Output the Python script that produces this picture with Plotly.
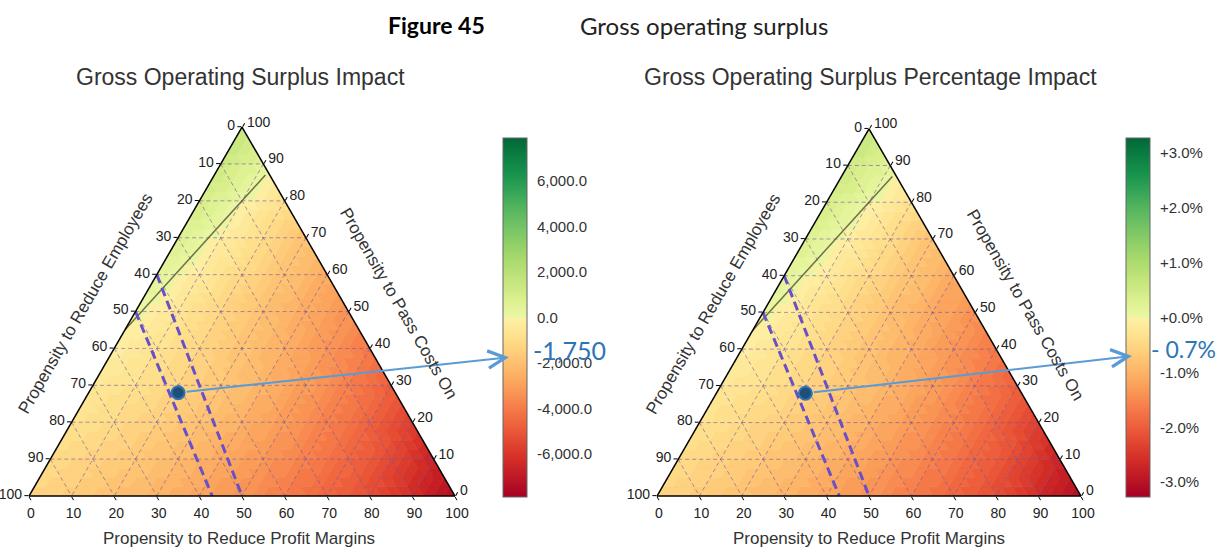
import math
import plotly.graph_objects as go
from plotly.colors import diverging, make_colorscale, sample_colorscale

W, H = 1216, 548

# ---------------- data ----------------
TICKS = [0, 10, 20, 30, 40, 50, 60, 70, 80, 90, 100]

# Lattice at 10 % steps. Row = share "Pass Costs On" (0, 10, ..., 100);
# inside a row: share "Reduce Profit Margins" 0, 10, ...; "Reduce Employees" is the rest.
GOS_IMPACT = [
    [-1300, -1610, -1970, -2380, -2850, -3380, -3960, -4600, -5300, -6300, -7400],
    [-1010, -1330, -1710, -2150, -2660, -3230, -3870, -4560, -5400, -6600],
    [-720, -1060, -1460, -1940, -2500, -3120, -3830, -4650, -5700],
    [-440, -790, -1230, -1760, -2370, -3080, -3870, -4800],
    [-150, -660, -1230, -1860, -2530, -3260, -4050],
    [140, -560, -1260, -1950, -2650, -3350],
    [430, -340, -1110, -1880, -2650],
    [720, -160, -1030, -1900],
    [1000, 100, -800],
    [1290, 400],
    [1580],
]
GOS_IMPACT_PCT = [
    [-0.54, -0.66, -0.81, -0.99, -1.18, -1.40, -1.64, -1.91, -2.19, -2.61, -3.06],
    [-0.42, -0.55, -0.71, -0.89, -1.10, -1.34, -1.60, -1.89, -2.24, -2.73],
    [-0.30, -0.44, -0.61, -0.80, -1.03, -1.29, -1.58, -1.92, -2.36],
    [-0.18, -0.33, -0.51, -0.73, -0.98, -1.27, -1.60, -1.99],
    [-0.06, -0.27, -0.51, -0.77, -1.05, -1.35, -1.68],
    [0.06, -0.23, -0.52, -0.81, -1.10, -1.39],
    [0.18, -0.14, -0.46, -0.78, -1.10],
    [0.30, -0.06, -0.43, -0.79],
    [0.42, 0.04, -0.33],
    [0.53, 0.17],
    [0.65],
]

GOS_CBAR_RANGE = [-7900, 7900]
PCT_CBAR_RANGE = [-3.27, 3.27]
GOS_CBAR_TICKS = [-6000, -4000, -2000, 0, 2000, 4000, 6000]
PCT_CBAR_TICKS = [-3, -2, -1, 0, 1, 2, 3]

# (pass costs on, reduce employees, reduce profit margins), in %
SELECTED_POINT = (28, 51, 21)
SELECTED_VALUES = [-1750, -0.7]
SELECTED_LABELS = ["-1,750", "- 0.7%"]

SCENARIO_LINES = [
    [(60, 40, 0), (0, 50, 50)],
    [(50, 50, 0), (0, 57, 43)],
]
ZERO_CONTOUR = [(45, 55, 0), (87, 1, 12)]

TITLES = ["Gross Operating Surplus Impact", "Gross Operating Surplus Percentage Impact"]
AXIS_TITLES = ["Propensity to Reduce Employees", "Propensity to Pass Costs On",
               "Propensity to Reduce Profit Margins"]

# ---------------- layout geometry ----------------
TERN = [dict(center=242, side=426), dict(center=869, side=424)]
BASE_Y = 496
CBAR_X = [503, 1126]
CBAR_TOP, CBAR_BOTTOM, CBAR_THICK = 138, 497, 24
LABEL_DX = [4, -1]
LABEL_SIZE = [25, 23]
FONT = "Liberation Sans, Arial, sans-serif"
SQ3 = math.sqrt(3)

_BASE = make_colorscale(diverging.RdYlGn)
COLORSCALE = []
for _i in range(11):
    _x = _i / 20
    COLORSCALE.append([min(_x, 0.4999), sample_colorscale(_BASE, [_x * 0.9])[0]])
for _i in range(11):
    _x = 0.5 + _i / 20
    COLORSCALE.append([_x, sample_colorscale(_BASE, [0.55 + (_x - 0.5) * 0.9])[0]])


def lattice_value(vals, u, v):
    i, j = int(math.floor(u)), int(math.floor(v))
    du, dv = u - i, v - j
    if du + dv <= 1:
        return (1 - du - dv) * vals[i][j] + du * vals[i + 1][j] + dv * vals[i][j + 1]
    return (du + dv - 1) * vals[i + 1][j + 1] + (1 - dv) * vals[i + 1][j] + (1 - du) * vals[i][j + 1]


def tern_px(i, a, b, c):
    g = TERN[i]
    S = g["side"]
    h = S * SQ3 / 2
    s = a + b + c
    x = g["center"] - S / 2 + S * (c / s + a / s / 2)
    y = BASE_Y - h * a / s
    return x, y


def cbar_py(v, vr):
    return CBAR_BOTTOM - (v - vr[0]) / (vr[1] - vr[0]) * (CBAR_BOTTOM - CBAR_TOP)


fig = go.Figure()
annotations = []
shapes = []

panels = [
    (GOS_IMPACT, GOS_CBAR_RANGE, GOS_CBAR_TICKS, [f"{t:,.1f}" for t in GOS_CBAR_TICKS]),
    (GOS_IMPACT_PCT, PCT_CBAR_RANGE, PCT_CBAR_TICKS, [f"{t:+.1f}%" for t in PCT_CBAR_TICKS]),
]

for idx, (vals, vr, cticks, ctext) in enumerate(panels):
    sub = "ternary" if idx == 0 else "ternary2"
    vmin, vmax = vr
    nb, N = 64, 40
    groups = {}
    for p in range(N):
        for q in range(N - p):
            tris = [((p, q), (p + 1, q), (p, q + 1))]
            if p + q <= N - 2:
                tris.append(((p + 1, q), (p, q + 1), (p + 1, q + 1)))
            for tri in tris:
                u = sum(t[0] for t in tri) / 3 * 10 / N
                v = sum(t[1] for t in tri) / 3 * 10 / N
                val = lattice_value(vals, u, v)
                k = int((val - vmin) / (vmax - vmin) * nb)
                k = max(0, min(nb - 1, k))
                groups.setdefault(k, []).append(tri)
    for k, tris in sorted(groups.items()):
        col = sample_colorscale(COLORSCALE, [(k + 0.5) / nb])[0]
        A, B, C = [], [], []
        for tri in tris:
            for (p, q) in list(tri) + [tri[0]]:
                A.append(p)
                C.append(q)
                B.append(N - p - q)
            A.append(None)
            B.append(None)
            C.append(None)
        fig.add_trace(go.Scatterternary(a=A, b=B, c=C, mode="lines", fill="toself",
                                        fillcolor=col, line=dict(color=col, width=0.8),
                                        hoverinfo="skip", showlegend=False, subplot=sub))

    # dashed grid
    A, B, C = [], [], []
    for t in TICKS[1:-1]:
        A += [t, t, None]; B += [100 - t, 0, None]; C += [0, 100 - t, None]
        A += [100 - t, 0, None]; B += [t, t, None]; C += [0, 100 - t, None]
        A += [100 - t, 0, None]; B += [0, 100 - t, None]; C += [t, t, None]
    fig.add_trace(go.Scatterternary(a=A, b=B, c=C, mode="lines",
                                    line=dict(color="rgba(115,85,165,0.6)", width=1, dash="4px,3px"),
                                    hoverinfo="skip", showlegend=False, subplot=sub))
    # zero contour
    fig.add_trace(go.Scatterternary(a=[p[0] for p in ZERO_CONTOUR], b=[p[1] for p in ZERO_CONTOUR],
                                    c=[p[2] for p in ZERO_CONTOUR], mode="lines",
                                    line=dict(color="rgba(95,85,55,0.85)", width=1.5),
                                    hoverinfo="skip", showlegend=False, subplot=sub))
    # scenario lines
    for ln in SCENARIO_LINES:
        fig.add_trace(go.Scatterternary(a=[p[0] for p in ln], b=[p[1] for p in ln], c=[p[2] for p in ln],
                                        mode="lines",
                                        line=dict(color="rgb(105,80,200)", width=3, dash="9px,5px"),
                                        hoverinfo="skip", showlegend=False, subplot=sub))
    # selected point
    fig.add_trace(go.Scatterternary(a=[SELECTED_POINT[0]], b=[SELECTED_POINT[1]], c=[SELECTED_POINT[2]],
                                    mode="markers",
                                    marker=dict(size=13, color="#1f4e79", line=dict(color="#2e75b6", width=2)),
                                    hoverinfo="skip", showlegend=False, subplot=sub))
    # colorbar carrier
    fig.add_trace(go.Scatterternary(
        a=[SELECTED_POINT[0]] * 2, b=[SELECTED_POINT[1]] * 2, c=[SELECTED_POINT[2]] * 2,
        mode="markers", hoverinfo="skip", showlegend=False, subplot=sub,
        marker=dict(size=1, opacity=0, color=[vmin, vmax], cmin=vmin, cmax=vmax, colorscale=COLORSCALE,
                    showscale=True,
                    colorbar=dict(x=CBAR_X[idx] / W, xanchor="left", xpad=0,
                                  y=1 - CBAR_BOTTOM / H, yanchor="bottom", ypad=0,
                                  lenmode="pixels", len=CBAR_BOTTOM - CBAR_TOP,
                                  thicknessmode="pixels", thickness=CBAR_THICK,
                                  outlinewidth=1, outlinecolor="#666",
                                  tickmode="array", tickvals=cticks, ticktext=ctext,
                                  ticks="outside", ticklen=7, tickcolor="rgba(0,0,0,0)",
                                  tickfont=dict(family=FONT, size=15, color="#333")))))
    # zero line in colorbar
    y0 = cbar_py(0, vr)
    shapes.append(dict(type="line", xref="paper", yref="paper",
                       x0=CBAR_X[idx] / W, x1=(CBAR_X[idx] + CBAR_THICK) / W,
                       y0=1 - y0 / H, y1=1 - y0 / H, line=dict(color="#4a4030", width=1.5)))
    # arrow from point to colorbar
    px, py = tern_px(idx, *SELECTED_POINT)
    tx, ty = CBAR_X[idx] + 6, cbar_py(SELECTED_VALUES[idx], vr)
    annotations.append(dict(x=tx / W, y=1 - ty / H, xref="paper", yref="paper",
                            ax=px - tx, ay=py - ty, axref="pixel", ayref="pixel",
                            text="", showarrow=True, arrowhead=5, arrowsize=1.7, arrowwidth=2,
                            arrowcolor="#5b9bd5", standoff=0, startstandoff=7))
    annotations.append(dict(x=(CBAR_X[idx] + CBAR_THICK + LABEL_DX[idx]) / W, y=1 - (ty - 7) / H,
                            xref="paper", yref="paper", xanchor="left", yanchor="middle",
                            text=SELECTED_LABELS[idx], showarrow=False,
                            font=dict(family="Lato, sans-serif", size=LABEL_SIZE[idx], color="#2e75b6")))
    # titles
    g = TERN[idx]
    annotations.append(dict(x=(g["center"] - 2 if idx == 0 else g["center"] + 1) / W, y=1 - 77 / H,
                            xref="paper", yref="paper",
                            text=TITLES[idx], showarrow=False, xanchor="center", yanchor="middle",
                            font=dict(family=FONT, size=23, color="#333")))
    lx, ly = tern_px(idx, 50, 50, 0)
    rx, ry = tern_px(idx, 50, 0, 50)
    annotations.append(dict(x=(lx - 50) / W, y=1 - (ly - 8) / H, xref="paper", yref="paper",
                            text=AXIS_TITLES[0], showarrow=False, textangle=-60,
                            xanchor="center", yanchor="middle",
                            font=dict(family=FONT, size=17, color="#333")))
    annotations.append(dict(x=(rx + 50) / W, y=1 - (ry - 8) / H, xref="paper", yref="paper",
                            text=AXIS_TITLES[1], showarrow=False, textangle=60,
                            xanchor="center", yanchor="middle",
                            font=dict(family=FONT, size=17, color="#333")))
    annotations.append(dict(x=(g["center"] - 3 if idx == 0 else g["center"]) / W, y=1 - 538 / H,
                            xref="paper", yref="paper",
                            text=AXIS_TITLES[2], showarrow=False, xanchor="center", yanchor="middle",
                            font=dict(family=FONT, size=17, color="#333")))

annotations.append(dict(x=436 / W, y=1 - 25 / H, xref="paper", yref="paper", text="<b>Figure 45</b>",
                        showarrow=False, xanchor="center", yanchor="middle",
                        font=dict(family="Lato, sans-serif", size=23, color="#000")))
annotations.append(dict(x=578 / W, y=1 - 25 / H, xref="paper", yref="paper", text="Gross operating surplus",
                        showarrow=False, xanchor="left", yanchor="middle",
                        font=dict(family="Lato, sans-serif", size=24, color="#222")))


def tern_layout(i):
    g = TERN[i]
    S = g["side"]
    h = S * SQ3 / 2
    ax = dict(showgrid=False, showline=True, linecolor="black", linewidth=1.5,
              ticks="outside", ticklen=4, tickcolor="black", tickwidth=1,
              tickmode="array", tickvals=TICKS, ticktext=[str(100 - t) for t in TICKS],
              tickfont=dict(family=FONT, size=14, color="#222"), title=dict(text=""),
              layer="above traces")
    return dict(domain=dict(x=[(g["center"] - S / 2) / W, (g["center"] + S / 2) / W],
                            y=[1 - BASE_Y / H, 1 - (BASE_Y - h) / H]),
                sum=100, bgcolor="white", aaxis=ax, baxis=ax, caxis=ax)


fig.update_layout(width=W, height=H, margin=dict(l=0, r=0, t=0, b=0),
                  paper_bgcolor="white", showlegend=False, hovermode=False,
                  ternary=tern_layout(0), ternary2=tern_layout(1),
                  annotations=annotations, shapes=shapes)
fig.write_html("out.html", config={"displayModeBar": False},
               post_script="document.body.style.margin='0';document.body.style.overflow='hidden';")
